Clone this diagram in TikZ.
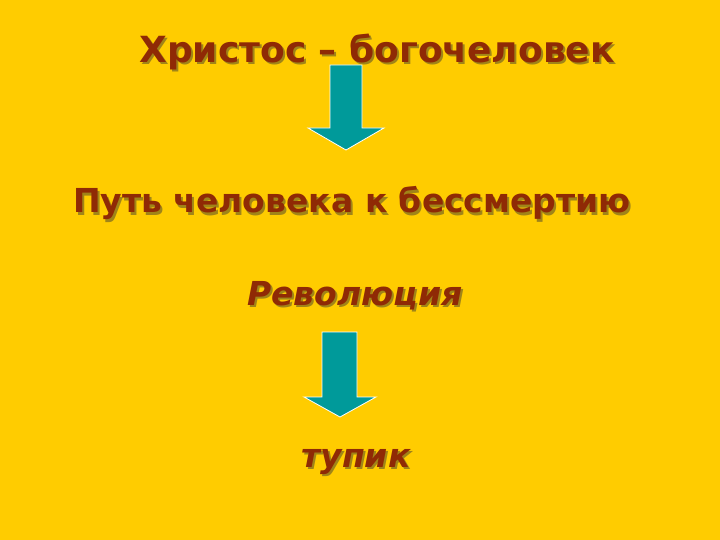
\documentclass[tikz,border=0pt]{standalone}
\usepackage{fontspec}
\setmainfont{DejaVu Sans}
\usepackage{tikz}

\definecolor{bg}{HTML}{FFCC00}
\definecolor{txt}{HTML}{8F2A05}
\definecolor{shade}{HTML}{A08418}
\definecolor{teal}{HTML}{009A9A}

% text with a small shadow to the lower right
\newcommand{\shadowed}[1]{\makebox[0pt][l]{\hspace{2pt}\raisebox{-2pt}{\textcolor{shade}{#1}}}#1}

\tikzset{
  title/.style={font=\bfseries\fontsize{36}{40}\selectfont,text=txt,anchor=base,inner sep=0pt},
  slant/.style={font=\bfseries\itshape\fontsize{33}{38}\selectfont,text=txt,anchor=base,inner sep=0pt},
  blockarrow/.style={fill=teal,draw=white,line width=0.8pt,line join=miter}
}

\begin{document}
\begin{tikzpicture}[x=1pt,y=-1pt]
\fill[bg] (0,0) rectangle (720,540);
\useasboundingbox (0,0) rectangle (720,540);
% text lines
\node[title] (christ) at (377,63) {\shadowed{Христос – богочеловек}};
\node[title,font=\bfseries\fontsize{33}{38}\selectfont] (path) at (352,213) {\shadowed{Путь человека к бессмертию}};
\node[slant] (revol) at (355,305) {\shadowed{Революция}};
\node[slant] (dead) at (356,467) {\shadowed{тупик}};
% block arrows
\draw[blockarrow] (330,65) -- (362,65) -- (362,128) -- (384,128) -- (346,150)
  -- (308,128) -- (330,128) -- cycle;
\draw[blockarrow] (322,332) -- (357,332) -- (357,397) -- (376,397) -- (340,417)
  -- (304,397) -- (322,397) -- cycle;
\end{tikzpicture}
\end{document}
